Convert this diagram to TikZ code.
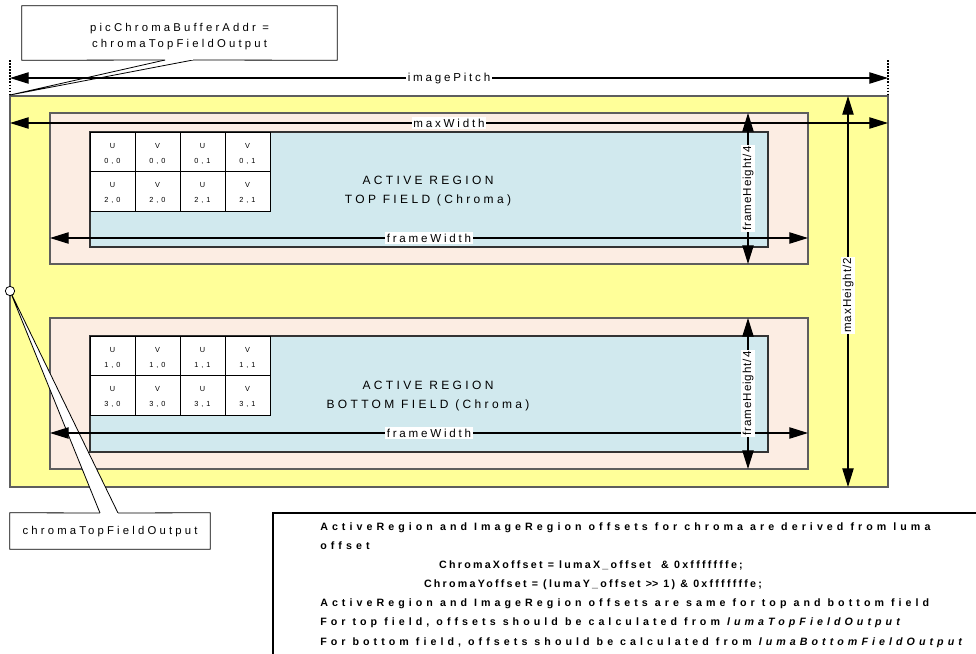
\documentclass[tikz,border=0pt]{standalone}
\usepackage{fontspec}
\setmainfont{Liberation Sans}
\newfontfamily\dimf[LetterSpace=24]{Liberation Sans}
\newfontfamily\vdimf[LetterSpace=8]{Liberation Sans}
\newfontfamily\actf[LetterSpace=28]{Liberation Sans}
\newfontfamily\calf[LetterSpace=28]{Liberation Sans}
\newfontfamily\cellf[LetterSpace=40]{Liberation Sans}
\newfontfamily\notef[LetterSpace=38]{Liberation Sans}
\newfontfamily\notefb[LetterSpace=21]{Liberation Sans}
\usetikzlibrary{arrows.meta}
\definecolor{ylw}{HTML}{FFFF99}
\definecolor{pnk}{HTML}{FCEDE3}
\definecolor{blu}{HTML}{D1E9EE}
\definecolor{bord}{HTML}{5E5E5E}
\tikzset{
  region/.style={draw=bord, line width=0.8pt},
  cell/.style={draw=black, fill=white, line width=0.6pt, minimum width=33.75pt, minimum height=29.6pt, inner sep=0pt},
  celltext/.style={inner sep=0pt, align=center, font=\cellf\fontsize{5.5}{11}\selectfont},
  dim/.style={line width=0.9pt, {Triangle[length=14pt,width=8.5pt]}-{Triangle[length=14pt,width=8.5pt]}},
  dimlabel/.style={fill=white, inner sep=1.2pt, font=\dimf\fontsize{8.7}{10}\selectfont},
  vdimlabel/.style={fill=white, inner sep=1.2pt, rotate=90, font=\vdimf\fontsize{8.7}{10}\selectfont},
  acttext/.style={align=center, font=\actf\fontsize{9}{14.25}\selectfont},
  calltext/.style={align=center, inner sep=0pt, font=\calf\fontsize{8.5}{12}\selectfont},
  notetext/.style={inner sep=0pt, font=\notef\bfseries\fontsize{8}{9}\selectfont},
  notetextc/.style={inner sep=0pt, font=\notefb\bfseries\fontsize{8}{9}\selectfont},
  thinline/.style={line width=0.6pt},
}
\begin{document}
\begin{tikzpicture}[x=0.75pt, y=-0.75pt]
\useasboundingbox (0,0) rectangle (976,654);
% image region
\draw[region, fill=ylw] (10,96) rectangle (888,487);
% top field
\draw[region, fill=pnk] (50,113) rectangle (808,264);
\draw[region, fill=blu, draw=black!80] (90,132) rectangle (768,247);
% bottom field
\draw[region, fill=pnk] (50,318) rectangle (808,469);
\draw[region, fill=blu, draw=black!80] (90,336) rectangle (768,452);
% cells
\foreach \ytop/\ra/\rb/\nm in {132/0/2/t,336/1/3/b} {
  \foreach \c/\L/\j in {0/U/0,1/V/0,2/U/1,3/V/1} {
    \node[cell] (\nm a\c) at ({112.5+45*\c},{\ytop+20}) {};
    \node[celltext] (\nm ta\c) at ([yshift=-1.6pt]\nm a\c.center) {\L\\\ra,\j};
    \node[cell] (\nm b\c) at ({112.5+45*\c},{\ytop+59.5}) {};
    \node[celltext] (\nm tb\c) at ([yshift=-1.2pt]\nm b\c.center) {\L\\\rb,\j};
  }
}
\node[acttext] (acttop) at (428,191.5) {ACTIVE REGION\\TOP FIELD (Chroma)};
\node[acttext] (actbot) at (428,396.5) {ACTIVE REGION\\BOTTOM FIELD (Chroma)};
% callout wedges
\coordinate (tip1) at (10,95);
\coordinate (w1a) at (165,60);
\coordinate (w1b) at (193,60);
\fill[white] (w1a) -- (tip1) -- (w1b) -- cycle;
\draw[thinline] (w1a) -- (tip1) -- (w1b);
\coordinate (tip2) at (10,291);
\coordinate (w2a) at (100,513);
\coordinate (w2b) at (118,513);
\fill[white] (w2a) -- (tip2) -- (w2b) -- cycle;
\draw[thinline] (w2a) -- (tip2) -- (w2b);
\node[circle, draw=black, fill=white, thinline, minimum size=7pt, inner sep=0pt] (dot) at (tip2) {};
% dotted extension lines
\coordinate (dlt) at (10,60);
\coordinate (dlb) at (10,96);
\coordinate (drt) at (888,60);
\coordinate (drb) at (888,96);
\draw[densely dotted, line width=1.3pt] (dlt) -- (dlb);
\draw[densely dotted, line width=1.3pt] (drt) -- (drb);
% dimension arrows
\coordinate (ipl) at (10,78);  \coordinate (ipr) at (888,78);
\draw[dim] (ipl) -- node[dimlabel] (iplab) {imagePitch} (ipr);
\coordinate (mwl) at (10,123); \coordinate (mwr) at (888,123);
\draw[dim] (mwl) -- node[dimlabel] (mwlab) {maxWidth} (mwr);
\coordinate (fwl1) at (50,238); \coordinate (fwr1) at (808,238);
\draw[dim] (fwl1) -- node[dimlabel] (fwlab1) {frameWidth} (fwr1);
\coordinate (fwl2) at (50,433); \coordinate (fwr2) at (808,433);
\draw[dim] (fwl2) -- node[dimlabel] (fwlab2) {frameWidth} (fwr2);
\coordinate (fht1) at (748,113); \coordinate (fhb1) at (748,264);
\draw[dim] (fht1) -- node[vdimlabel] (fhlab1) {frameHeight/4} (fhb1);
\coordinate (fht2) at (748,318); \coordinate (fhb2) at (748,469);
\draw[dim] (fht2) -- node[vdimlabel] (fhlab2) {frameHeight/4} (fhb2);
\coordinate (mht) at (848,96); \coordinate (mhb) at (848,487);
\draw[dim] (mht) -- node[vdimlabel, pos=0.51] (mhlab) {maxHeight/2} (mhb);
% callout boxes
\node[fill=white, minimum width=236.25pt, minimum height=40.5pt, inner sep=0pt] (cb1) at (179.5,33) {};
\node[calltext] (cb1t) at (179.5,36.5) {picChromaBufferAddr =\\chromaTopFieldOutput};
\draw[thinline] (w1a) -- (cb1.south west) -- (cb1.north west) -- (cb1.north east) -- (cb1.south east) -- (w1b);
\node[fill=white, minimum width=150pt, minimum height=27pt, inner sep=0pt] (cb2) at (110,531) {};
\node[calltext] (cb2t) at (110,532) {chromaTopFieldOutput};
\draw[thinline] (w2a) -- (cb2.north west) -- (cb2.south west) -- (cb2.south east) -- (cb2.north east) -- (w2b);
% note box
\draw[line width=0.8pt, fill=white] (273,513) rectangle (990,670);
\node[notetext, anchor=base west] (n1) at (320,530.5) {ActiveRegion and ImageRegion offsets for chroma are derived from luma};
\node[notetext, anchor=base west] (n2) at (320,549.5) {offset};
\node[notetextc, anchor=base] (n3) at (591,568.5) {ChromaXoffset = lumaX\_offset\ \ \& 0xfffffffe;};
\node[notetextc, anchor=base] (n4) at (593,587.5) {ChromaYoffset = (lumaY\_offset >\kern0pt> 1) \& 0xfffffffe;};
\node[notetext, anchor=base west] (n5) at (320,606.5) {ActiveRegion and ImageRegion offsets are same for top and bottom field};
\node[notetext, anchor=base west] (n6) at (320,625.5) {For top field, offsets should be calculated from \textit{lumaTopFieldOutput}};
\node[notetext, anchor=base west] (n7) at (320,645) {For bottom field, offsets should be calculated from \textit{lumaBottomFieldOutput}};
\end{tikzpicture}
\end{document}
